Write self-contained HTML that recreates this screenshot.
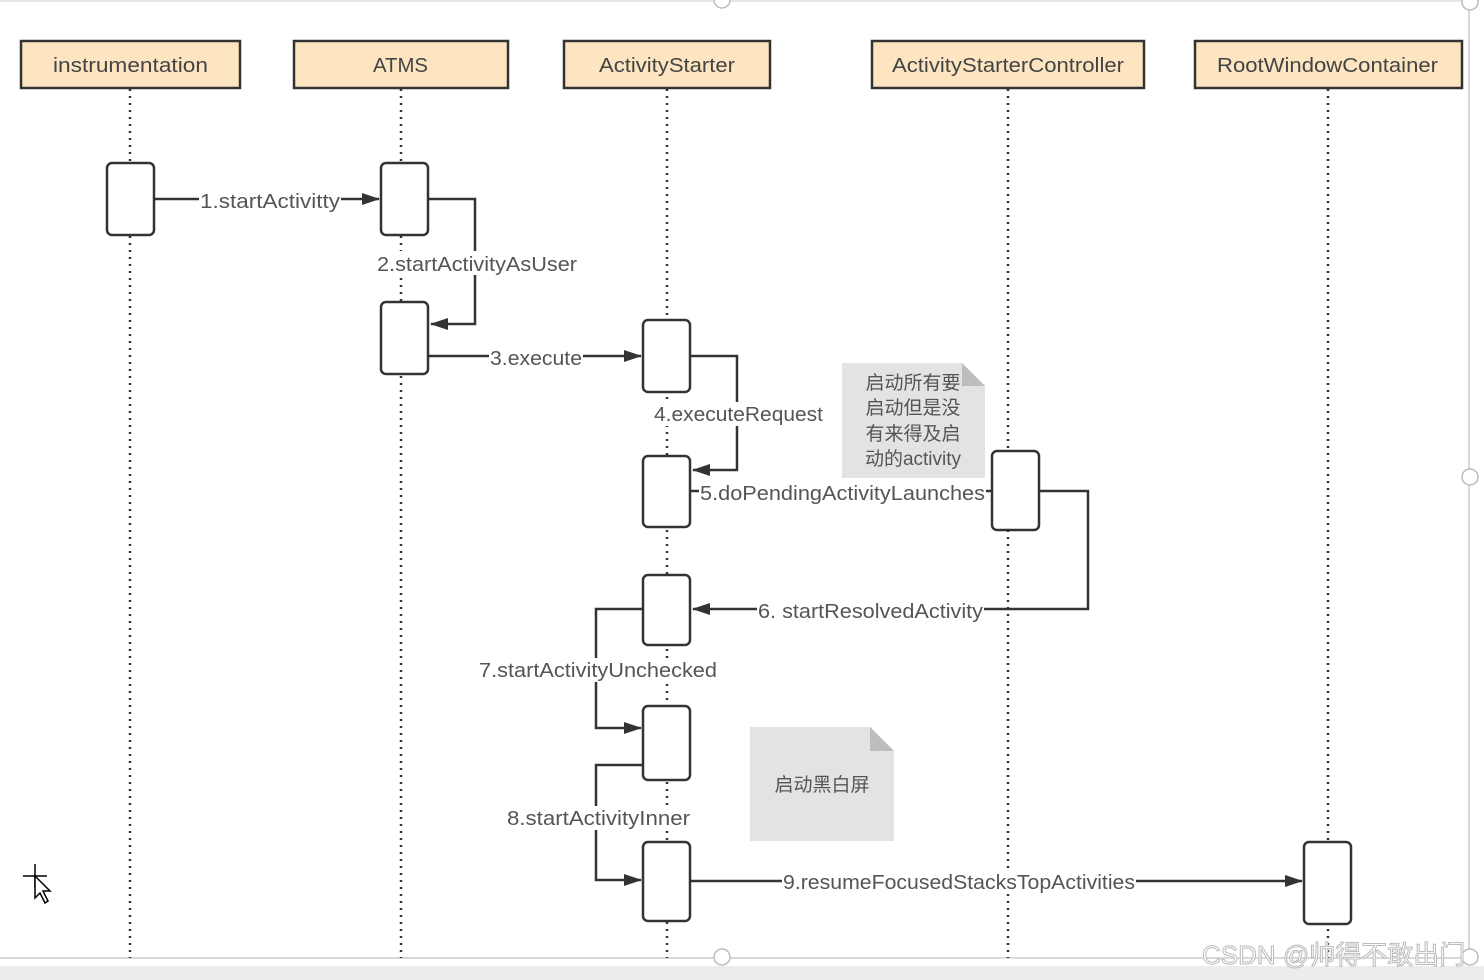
<!DOCTYPE html>
<html><head><meta charset="utf-8"><style>
html,body{margin:0;padding:0;background:#fff;}
svg{display:block;}
text{font-family:"Liberation Sans","Noto Sans CJK SC",sans-serif;}
</style></head><body>
<svg width="1484" height="980" viewBox="0 0 1484 980" xmlns="http://www.w3.org/2000/svg">
<defs>
<marker id="a" markerWidth="18" markerHeight="12" refX="17" refY="6" orient="auto" markerUnits="userSpaceOnUse">
<path d="M0,0 L18,6 L0,12 Z" fill="#333"/></marker>
</defs>
<rect x="0" y="0" width="1484" height="980" fill="#fff"/>
<line x1="0" y1="1" x2="1467" y2="1" stroke="#ddd" stroke-width="1.5"/>
<line x1="1469" y1="0" x2="1469" y2="958" stroke="#ccc" stroke-width="1.5"/>
<line x1="0" y1="958" x2="1469" y2="958" stroke="#ccc" stroke-width="1.5"/>
<rect x="0" y="966" width="1484" height="14" fill="#ececec"/>
<circle cx="722" cy="0" r="8" fill="#fff" stroke="#bbb" stroke-width="1.5"/>
<circle cx="1470" cy="2" r="8" fill="#fff" stroke="#bbb" stroke-width="1.5"/>
<circle cx="1470" cy="477" r="8" fill="#fff" stroke="#bbb" stroke-width="1.5"/>
<circle cx="722" cy="957" r="8" fill="#fff" stroke="#bbb" stroke-width="1.5"/>
<circle cx="1470" cy="957" r="8" fill="#fff" stroke="#bbb" stroke-width="1.5"/>

<g stroke="#333" stroke-width="2.5" stroke-dasharray="2,5">
<line x1="130" y1="89" x2="130" y2="958"/>
<line x1="401" y1="89" x2="401" y2="958"/>
<line x1="667" y1="89" x2="667" y2="958"/>
<line x1="1008" y1="89" x2="1008" y2="958"/>
<line x1="1328" y1="89" x2="1328" y2="958"/>
</g>

<g fill="#fce5c0" stroke="#333" stroke-width="2.5">
<rect x="21" y="41" width="219" height="47"/>
<rect x="294" y="41" width="214" height="47"/>
<rect x="564" y="41" width="206" height="47"/>
<rect x="872" y="41" width="272" height="47"/>
<rect x="1195" y="41" width="267" height="47"/>
</g>
<g font-size="20" fill="#444" lengthAdjust="spacingAndGlyphs">
<text x="53" y="72" textLength="155" lengthAdjust="spacingAndGlyphs">instrumentation</text>
<text x="373" y="72" textLength="55" lengthAdjust="spacingAndGlyphs">ATMS</text>
<text x="599" y="72" textLength="136" lengthAdjust="spacingAndGlyphs">ActivityStarter</text>
<text x="892" y="72" textLength="232" lengthAdjust="spacingAndGlyphs">ActivityStarterController</text>
<text x="1217" y="72" textLength="221" lengthAdjust="spacingAndGlyphs">RootWindowContainer</text>
</g>

<path d="M842,363 L962,363 L985,386 L985,478 L842,478 Z" fill="#e3e3e3"/>
<path d="M962,363 L985,386 L962,386 Z" fill="#bdbdbd"/>
<path d="M750,727 L870,727 L894,751 L894,841 L750,841 Z" fill="#e3e3e3"/>
<path d="M870,727 L894,751 L870,751 Z" fill="#bdbdbd"/>
<g font-size="19" fill="#555" text-anchor="middle">
<text x="913" y="389">启动所有要</text>
<text x="913" y="414">启动但是没</text>
<text x="913" y="440">有来得及启</text>
<text x="913" y="465">动的activity</text>
<text x="822" y="791">启动黑白屏</text>
</g>

<g stroke="#333" stroke-width="2.5" fill="none">
<line x1="154" y1="199" x2="379" y2="199" marker-end="url(#a)"/>
<polyline points="428,199 475,199 475,324 431,324" marker-end="url(#a)"/>
<line x1="428" y1="356" x2="641" y2="356" marker-end="url(#a)"/>
<polyline points="690,356 737,356 737,470 693,470" marker-end="url(#a)"/>
<line x1="690" y1="491" x2="992" y2="491"/>
<polyline points="1039,491 1088,491 1088,609 693,609" marker-end="url(#a)"/>
<polyline points="643,609 596,609 596,728 641,728" marker-end="url(#a)"/>
<polyline points="643,765 596,765 596,880 641,880" marker-end="url(#a)"/>
<line x1="690" y1="881" x2="1302" y2="881" marker-end="url(#a)"/>
</g>

<g fill="#fff" stroke="#333" stroke-width="2.5">
<rect x="107" y="163" width="47" height="72" rx="5"/>
<rect x="381" y="163" width="47" height="72" rx="5"/>
<rect x="381" y="302" width="47" height="72" rx="5"/>
<rect x="643" y="320" width="47" height="72" rx="5"/>
<rect x="643" y="456" width="47" height="71" rx="5"/>
<rect x="643" y="575" width="47" height="70" rx="5"/>
<rect x="643" y="706" width="47" height="74" rx="5"/>
<rect x="643" y="842" width="47" height="79" rx="5"/>
<rect x="992" y="451" width="47" height="79" rx="5"/>
<rect x="1304" y="842" width="47" height="82" rx="5"/>
</g>

<g font-size="20" fill="#555">
<rect x="199" y="188" width="142" height="24" fill="#fff"/>
<text x="200" y="208" textLength="140" lengthAdjust="spacingAndGlyphs">1.startActivitty</text>
<rect x="376" y="251" width="202" height="24" fill="#fff"/>
<text x="377" y="271" textLength="200" lengthAdjust="spacingAndGlyphs">2.startActivityAsUser</text>
<rect x="489" y="345" width="94" height="24" fill="#fff"/>
<text x="490" y="365" textLength="92" lengthAdjust="spacingAndGlyphs">3.execute</text>
<rect x="653" y="402" width="171" height="24" fill="#fff"/>
<text x="654" y="421" textLength="169" lengthAdjust="spacingAndGlyphs">4.executeRequest</text>
<rect x="699" y="480" width="287" height="24" fill="#fff"/>
<text x="700" y="500" textLength="285" lengthAdjust="spacingAndGlyphs">5.doPendingActivityLaunches</text>
<rect x="757" y="598" width="227" height="24" fill="#fff"/>
<text x="758" y="618" textLength="225" lengthAdjust="spacingAndGlyphs">6. startResolvedActivity</text>
<rect x="478" y="658" width="240" height="24" fill="#fff"/>
<text x="479" y="677" textLength="238" lengthAdjust="spacingAndGlyphs">7.startActivityUnchecked</text>
<rect x="506" y="806" width="185" height="24" fill="#fff"/>
<text x="507" y="825" textLength="183" lengthAdjust="spacingAndGlyphs">8.startActivityInner</text>
<rect x="782" y="869" width="354" height="24" fill="#fff"/>
<text x="783" y="889" textLength="352" lengthAdjust="spacingAndGlyphs">9.resumeFocusedStacksTopActivities</text>
</g>

<text x="1202" y="964" font-size="26" fill="#fff" stroke="#bbb" stroke-width="1">CSDN @帅得不敢出门</text>

<g stroke="#000" stroke-width="1.5" fill="#000">
<line x1="23" y1="876" x2="47" y2="876"/>
<line x1="35" y1="864" x2="35" y2="888"/>
<path d="M35,876 L35,898 L40,893 L45,903 L48,901 L43,891 L50,891 Z" fill="#fff"/>
</g>
</svg>
</body></html>
